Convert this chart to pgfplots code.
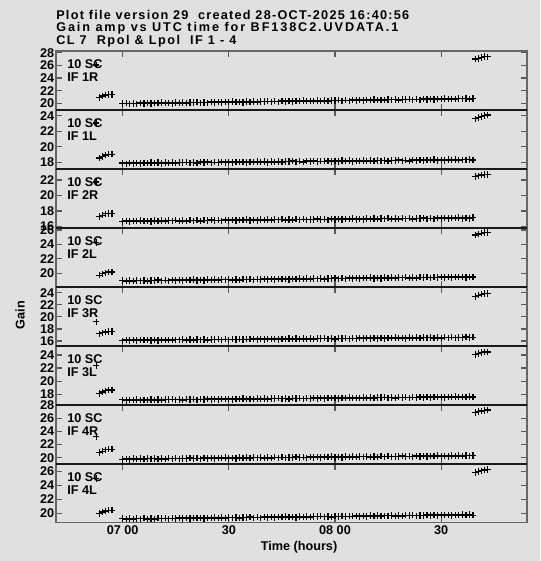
\documentclass[border=0pt]{standalone}
\usepackage{fontspec}
\setmainfont{Liberation Sans}
\newfontfamily\tfa{Liberation Sans}[LetterSpace=10]
\newfontfamily\tfb{Liberation Sans}[LetterSpace=15]
\newfontfamily\tfc{Liberation Sans}[LetterSpace=12]
\usepackage{pgfplots}
\usepackage{pgfplotstable}
\pgfplotsset{compat=1.18}
\definecolor{bg}{HTML}{E0E0E0}
\newcommand{\fs}{\fontsize{9.5}{10.5}\selectfont\bfseries}
\pgfplotstableread{
t a b c d e f g h
0 19.95 17.91 16.66 18.98 16.04 17.16 19.76 19.25
1 20.02 17.82 16.72 18.89 16.16 17.08 19.84 19.19
2 19.93 17.94 16.64 18.96 16.09 17.15 19.75 19.25
3 20.00 17.87 16.71 18.88 16.16 17.14 19.87 19.17
4 19.92 17.94 16.70 18.99 16.07 17.20 19.80 19.24
5 20.04 17.85 16.76 18.93 16.15 17.11 19.87 19.23
6 19.98 17.93 16.67 18.99 16.13 17.18 19.78 19.30
7 20.05 17.91 16.74 18.91 16.20 17.10 19.86 19.20
8 19.96 17.98 16.65 18.98 16.10 17.21 19.84 19.28
9 20.04 17.88 16.77 18.97 16.18 17.15 19.91 19.19
10 20.03 17.96 16.70 19.04 16.09 17.21 19.81 19.31
11 20.10 17.87 16.77 18.94 16.21 17.13 19.89 19.25
12 20.01 17.98 16.68 19.02 16.14 17.20 19.80 19.31
13 20.08 17.92 16.75 18.93 16.21 17.19 19.92 19.23
14 20.00 17.98 16.74 19.05 16.12 17.25 19.85 19.30
15 20.12 17.90 16.80 18.98 16.20 17.16 19.92 19.29
16 20.06 17.97 16.71 19.05 16.18 17.23 19.83 19.36
17 20.13 17.96 16.78 18.96 16.25 17.15 19.91 19.26
18 20.04 18.02 16.70 19.04 16.15 17.26 19.89 19.34
19 20.12 17.93 16.81 19.02 16.23 17.20 19.96 19.25
20 20.11 18.00 16.74 19.09 16.14 17.26 19.86 19.37
21 20.18 17.91 16.81 19.00 16.26 17.18 19.94 19.31
22 20.09 18.03 16.72 19.07 16.19 17.25 19.85 19.37
23 20.16 17.96 16.80 18.99 16.26 17.24 19.97 19.29
24 20.08 18.03 16.78 19.10 16.17 17.30 19.90 19.36
25 20.20 17.94 16.85 19.04 16.25 17.21 19.97 19.35
26 20.14 18.02 16.75 19.10 16.23 17.28 19.88 19.42
27 20.21 18.00 16.82 19.02 16.30 17.20 19.96 19.32
28 20.12 18.07 16.74 19.09 16.20 17.31 19.94 19.40
29 20.20 17.97 16.85 19.08 16.28 17.25 20.01 19.31
30 20.19 18.05 16.79 19.15 16.19 17.31 19.91 19.43
31 20.26 17.96 16.85 19.05 16.31 17.23 19.99 19.37
32 20.17 18.07 16.76 19.13 16.24 17.30 19.90 19.43
33 20.24 18.01 16.84 19.04 16.31 17.29 20.02 19.35
34 20.16 18.07 16.82 19.16 16.22 17.35 19.95 19.42
35 20.28 17.99 16.89 19.09 16.30 17.26 20.02 19.41
36 20.22 18.06 16.79 19.16 16.28 17.33 19.93 19.48
37 20.29 18.05 16.87 19.07 16.35 17.25 20.01 19.38
38 20.20 18.11 16.78 19.15 16.25 17.36 19.99 19.46
39 20.28 18.02 16.89 19.13 16.33 17.30 20.06 19.37
40 20.27 18.09 16.83 19.20 16.24 17.36 19.96 19.49
41 20.34 18.00 16.89 19.11 16.36 17.28 20.04 19.43
42 20.25 18.12 16.81 19.18 16.29 17.35 19.95 19.49
43 20.32 18.05 16.88 19.10 16.36 17.34 20.07 19.41
44 20.24 18.12 16.87 19.21 16.27 17.40 20.00 19.48
45 20.36 18.03 16.93 19.15 16.35 17.31 20.07 19.47
46 20.30 18.11 16.83 19.21 16.33 17.38 19.98 19.54
47 20.37 18.09 16.91 19.13 16.40 17.30 20.06 19.44
48 20.28 18.16 16.82 19.20 16.30 17.41 20.04 19.52
49 20.36 18.06 16.94 19.19 16.38 17.35 20.11 19.43
50 20.35 18.14 16.87 19.26 16.29 17.41 20.01 19.55
51 20.42 18.05 16.93 19.16 16.41 17.33 20.09 19.49
52 20.33 18.16 16.85 19.24 16.34 17.40 20.00 19.55
53 20.40 18.10 16.92 19.15 16.41 17.39 20.12 19.47
54 20.32 18.16 16.91 19.27 16.32 17.45 20.05 19.54
55 20.44 18.08 16.97 19.20 16.40 17.36 20.12 19.53
56 20.38 18.15 16.88 19.27 16.38 17.43 20.03 19.60
57 20.45 18.14 16.95 19.18 16.45 17.35 20.11 19.50
58 20.36 18.20 16.86 19.26 16.35 17.46 20.09 19.58
59 20.44 18.11 16.98 19.24 16.43 17.40 20.16 19.49
60 20.43 18.18 16.91 19.31 16.34 17.46 20.06 19.61
61 20.50 18.09 16.98 19.22 16.46 17.38 20.14 19.55
62 20.41 18.21 16.89 19.29 16.39 17.45 20.05 19.61
63 20.48 18.14 16.97 19.21 16.46 17.44 20.17 19.53
64 20.40 18.21 16.95 19.32 16.37 17.50 20.10 19.60
65 20.52 18.12 17.01 19.26 16.45 17.41 20.17 19.59
66 20.46 18.20 16.92 19.32 16.43 17.48 20.08 19.66
67 20.53 18.18 16.99 19.24 16.50 17.40 20.16 19.56
68 20.44 18.25 16.91 19.31 16.40 17.51 20.14 19.64
69 20.52 18.15 17.02 19.30 16.48 17.45 20.21 19.55
70 20.51 18.23 16.95 19.37 16.39 17.51 20.11 19.67
71 20.58 18.14 17.02 19.27 16.51 17.43 20.19 19.61
72 20.49 18.25 16.93 19.35 16.44 17.50 20.10 19.67
73 20.56 18.19 17.01 19.26 16.51 17.49 20.22 19.59
74 20.48 18.25 16.99 19.38 16.42 17.55 20.15 19.66
75 20.60 18.17 17.06 19.31 16.50 17.46 20.22 19.65
76 20.54 18.24 16.96 19.38 16.48 17.53 20.13 19.72
77 20.61 18.23 17.03 19.29 16.55 17.45 20.21 19.62
78 20.52 18.29 16.95 19.37 16.45 17.56 20.19 19.70
79 20.60 18.20 17.06 19.35 16.53 17.50 20.26 19.61
80 20.59 18.27 17.00 19.42 16.44 17.56 20.16 19.73
81 20.66 18.18 17.06 19.33 16.56 17.48 20.24 19.67
82 20.57 18.30 16.97 19.40 16.49 17.55 20.15 19.73
83 20.64 18.23 17.05 19.32 16.56 17.54 20.27 19.65
84 20.56 18.30 17.03 19.43 16.47 17.60 20.20 19.72
85 20.68 18.21 17.10 19.37 16.55 17.51 20.27 19.71
86 20.62 18.29 17.00 19.43 16.53 17.58 20.18 19.78
87 20.69 18.27 17.08 19.35 16.60 17.50 20.26 19.68
88 20.60 18.34 16.99 19.42 16.50 17.61 20.24 19.76
89 20.68 18.24 17.10 19.41 16.58 17.55 20.31 19.67
90 20.67 18.32 17.04 19.48 16.49 17.61 20.21 19.79
91 20.74 18.23 17.10 19.38 16.61 17.53 20.29 19.73
92 20.65 18.34 17.02 19.46 16.54 17.60 20.20 19.79
93 20.72 18.28 17.09 19.37 16.61 17.59 20.32 19.71
94 20.64 18.34 17.08 19.49 16.52 17.65 20.25 19.78
95 20.76 18.26 17.14 19.42 16.60 17.56 20.32 19.77
96 20.70 18.33 17.04 19.49 16.58 17.63 20.23 19.84
97 20.77 18.32 17.12 19.40 16.65 17.55 20.31 19.74
98 20.68 18.38 17.03 19.48 16.55 17.66 20.29 19.82
99 20.76 18.29 17.15 19.46 16.63 17.60 20.36 19.73
}\main
\pgfplotstableread{
t a b c d e f g h
-7.5 26.06 23.06 21.75 24.24 19.17 22.35 23.24 24.97
-6.6 20.95 18.55 17.30 19.70 17.20 18.10 20.80 20.00
-5.7 21.15 18.75 17.45 19.90 17.35 18.35 21.00 20.20
-4.8 21.30 18.95 17.65 20.05 17.50 18.55 21.20 20.35
-3.9 21.40 19.05 17.70 20.15 17.60 18.65 21.30 20.45
-3.0 21.40 19.05 17.70 20.15 17.60 18.65 21.30 20.45
99.6 27.00 23.60 22.45 25.30 23.40 24.05 26.85 25.85
100.5 27.10 23.75 22.55 25.45 23.60 24.20 27.00 26.00
101.4 27.25 23.90 22.65 25.55 23.75 24.35 27.10 26.10
102.3 27.40 24.05 22.70 25.65 23.85 24.45 27.20 26.20
103.2 27.35 24.10 22.70 25.65 23.90 24.45 27.25 26.30
}\side
\pgfplotsset{
  panel/.style={
    anchor=south west, scale only axis,
    width=353.25pt, height=44.22pt,
    xmin=-18.85, xmax=114.27,
    xtick={0,30,60,90}, xticklabels={},
    tick align=inside, major tick length=4.5pt,
    tick style={black!65, line width=0.9pt},
    axis line style={black!60, line width=1pt},
    /pgf/number format/assume math mode=true,
    ticklabel style={font=\fs},
    yticklabel style={inner sep=1.2pt},
    clip=false,
  },
  pts/.style={only marks, mark=+, mark size=2.4pt, black, line width=0.9pt},
}
\begin{document}
\begin{tikzpicture}
\fill[bg] (0,0) rectangle (405pt,420.75pt);
\path[use as bounding box] (0,0) rectangle (405pt,420.75pt);
\begin{axis}[panel, at={(42pt,338.28pt)}, ymin=18.95, ymax=28.27, ytick={20,22,...,28}]
\addplot[pts] table[x=t,y=a]{\main};
\addplot[pts] table[x=t,y=a]{\side};
\end{axis}
\begin{axis}[panel, at={(42pt,294.06pt)}, ymin=17.15, ymax=24.74, ytick={18,20,...,24}]
\addplot[pts] table[x=t,y=b]{\main};
\addplot[pts] table[x=t,y=b]{\side};
\end{axis}
\begin{axis}[panel, at={(42pt,249.84pt)}, ymin=15.82, ymax=23.43, ytick={16,18,...,22}]
\addplot[pts] table[x=t,y=c]{\main};
\addplot[pts] table[x=t,y=c]{\side};
\end{axis}
\begin{axis}[panel, at={(42pt,205.62pt)}, ymin=18.09, ymax=26.3, ytick={20,22,...,26}]
\addplot[pts] table[x=t,y=d]{\main};
\addplot[pts] table[x=t,y=d]{\side};
\end{axis}
\begin{axis}[panel, at={(42pt,161.4pt)}, ymin=15.2, ymax=24.98, ytick={16,18,...,24}]
\addplot[pts] table[x=t,y=e]{\main};
\addplot[pts] table[x=t,y=e]{\side};
\end{axis}
\begin{axis}[panel, at={(42pt,117.18pt)}, ymin=16.41, ymax=25.4, ytick={18,20,...,24}]
\addplot[pts] table[x=t,y=f]{\main};
\addplot[pts] table[x=t,y=f]{\side};
\end{axis}
\begin{axis}[panel, at={(42pt,72.96pt)}, ymin=19.09, ymax=28.05, ytick={20,22,...,28}]
\addplot[pts] table[x=t,y=g]{\main};
\addplot[pts] table[x=t,y=g]{\side};
\end{axis}
\begin{axis}[panel, at={(42pt,28.74pt)}, ymin=18.67, ymax=27.1, ytick={20,22,...,26},
  xticklabels={07 00,30,08 00,30}, xticklabel style={inner sep=2pt}]
\addplot[pts] table[x=t,y=h]{\main};
\addplot[pts] table[x=t,y=h]{\side};
\end{axis}
\foreach \yy in {338.28,294.06,249.84,205.62,161.4,117.18,72.96}
  \draw[black!90, line width=1.7pt] (42pt,\yy pt) -- (395.25pt,\yy pt);
\foreach \yy/\lab in {382.5/IF 1R,338.28/IF 1L,294.06/IF 2R,249.84/IF 2L,205.62/IF 3R,161.4/IF 3L,117.18/IF 4R,72.96/IF 4L}{
  \node[anchor=base west, inner sep=0pt, font=\fs] at (50.25pt,\yy pt-13.1pt) {10 SC};
  \node[anchor=base west, inner sep=0pt, font=\fs] at (50.25pt,\yy pt-22.9pt) {\lab};
}
\node[anchor=base west, inner sep=0pt, font={\tfa\fs}] at (42pt,406.3pt) {Plot file version 29\ \ created 28-OCT-2025 16:40:56};
\node[anchor=base west, inner sep=0pt, font={\tfb\fs}] at (42pt,396.75pt) {Gain amp vs UTC time for BF138C2.UVDATA.1};
\node[anchor=base west, inner sep=0pt, font={\tfc\fs}] at (42pt,387pt) {CL 7\ \ Rpol \& Lpol\ \ IF 1 - 4};
\node[anchor=base, inner sep=0pt, font=\fs] at (224.25pt,8.25pt) {Time (hours)};
\node[rotate=90, inner sep=0pt, font=\fs] at (15pt,184.5pt) {Gain};
\end{tikzpicture}
\end{document}
